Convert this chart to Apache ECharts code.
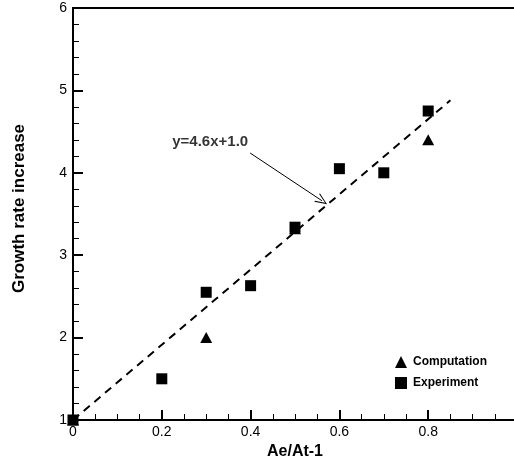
<!DOCTYPE html>
<html>
<head>
<meta charset="utf-8">
<script src="https://cdn.jsdelivr.net/npm/echarts@6/dist/echarts.min.js"></script>
<style>
  html, body { margin: 0; padding: 0; background: #fff; }
  #chart { width: 514px; height: 459px; }
</style>
</head>
<body>
<div id="chart"></div>
<script>
// data
var computation = [[0, 1.0], [0.3, 2.0], [0.5, 3.32], [0.8, 4.4]];
var experiment = [[0, 1.0], [0.2, 1.5], [0.3, 2.55], [0.4, 2.63], [0.5, 3.34], [0.6, 4.05], [0.7, 4.0], [0.8, 4.75]];
var fitLine = [[0, 1.0], [0.85, 4.88]];
var fitLabel = 'y=4.6x+1.0';
var labelPos = [[0.309, 4.37]];
var arrowFrom = [0.399, 4.24];
var arrowTo = [0.561, 3.66];

var font = "'Liberation Sans', Arial, sans-serif";

var chart = echarts.init(document.getElementById('chart'));

var option = {
    animation: false,
    grid: {
        left: 73,
        top: 8,
        width: 444,
        height: 412,
        outerBoundsMode: 'none',
        containLabel: false,
        show: true,
        borderColor: '#000',
        borderWidth: 2
    },
    legend: {
        data: ['Computation', 'Experiment'],
        orient: 'vertical',
        left: 395,
        top: 356,
        padding: 0,
        itemWidth: 12,
        itemHeight: 12,
        itemGap: 9,
        textStyle: {
            fontFamily: font,
            fontWeight: 'bold',
            fontSize: 12,
            color: '#000',
            padding: [0, 0, 0, 1]
        }
    },
    xAxis: {
        type: 'value',
        min: 0,
        max: 1,
        interval: 0.2,
        name: 'Ae/At-1',
        nameLocation: 'middle',
        nameGap: 22,
        nameTextStyle: {fontFamily: font, fontWeight: 'bold', fontSize: 16, color: '#000'},
        axisLine: {lineStyle: {color: '#000', width: 2}},
        axisTick: {inside: true, length: 10, lineStyle: {color: '#000', width: 2}},
        minorTick: {show: true, splitNumber: 4, length: 6, lineStyle: {color: '#000', width: 1}},
        axisLabel: {fontFamily: font, fontSize: 14, color: '#000', margin: 5},
        splitLine: {show: false}
    },
    yAxis: {
        type: 'value',
        min: 1,
        max: 6,
        interval: 1,
        name: 'Growth rate increase',
        nameLocation: 'middle',
        nameGap: 45,
        nameTextStyle: {fontFamily: font, fontWeight: 'bold', fontSize: 17, color: '#000', padding: [0, 0, 0, 11]},
        axisLine: {lineStyle: {color: '#000', width: 2}},
        axisTick: {inside: true, length: 10, lineStyle: {color: '#000', width: 2}},
        minorTick: {show: true, splitNumber: 5, length: 6, lineStyle: {color: '#000', width: 1}},
        axisLabel: {fontFamily: font, fontSize: 14, color: '#000', margin: 6},
        splitLine: {show: false}
    },
    series: [
        {
            name: 'Computation',
            type: 'scatter',
            symbol: 'triangle',
            symbolSize: [12, 11],
            itemStyle: {color: '#000', opacity: 1},
            data: computation,
            z: 2
        },
        {
            name: 'Experiment',
            type: 'scatter',
            symbol: 'rect',
            symbolSize: 11,
            itemStyle: {color: '#000', opacity: 1},
            data: experiment,
            z: 3
        },
        {
            name: 'fit',
            type: 'line',
            symbol: 'none',
            lineStyle: {color: '#000', width: 2, type: [8, 6]},
            data: fitLine,
            z: 4,
            markLine: {
                silent: true,
                symbol: ['none', 'path://M0,10 L5,0 L10,10 L9,10 L5,2 L1,10 Z'],
                symbolSize: [10, 12],
                lineStyle: {color: '#000', width: 1, type: 'solid'},
                label: {show: false},
                data: [[{coord: arrowFrom}, {coord: arrowTo}]]
            }
        },
        {
            name: 'note',
            type: 'scatter',
            symbolSize: 0,
            data: labelPos,
            label: {
                show: true,
                position: 'inside',
                formatter: fitLabel,
                fontFamily: font,
                fontWeight: 'bold',
                fontSize: 15,
                color: '#000'
            },
            z: 5
        }
    ]
};

chart.setOption(option);
</script>
</body>
</html>
